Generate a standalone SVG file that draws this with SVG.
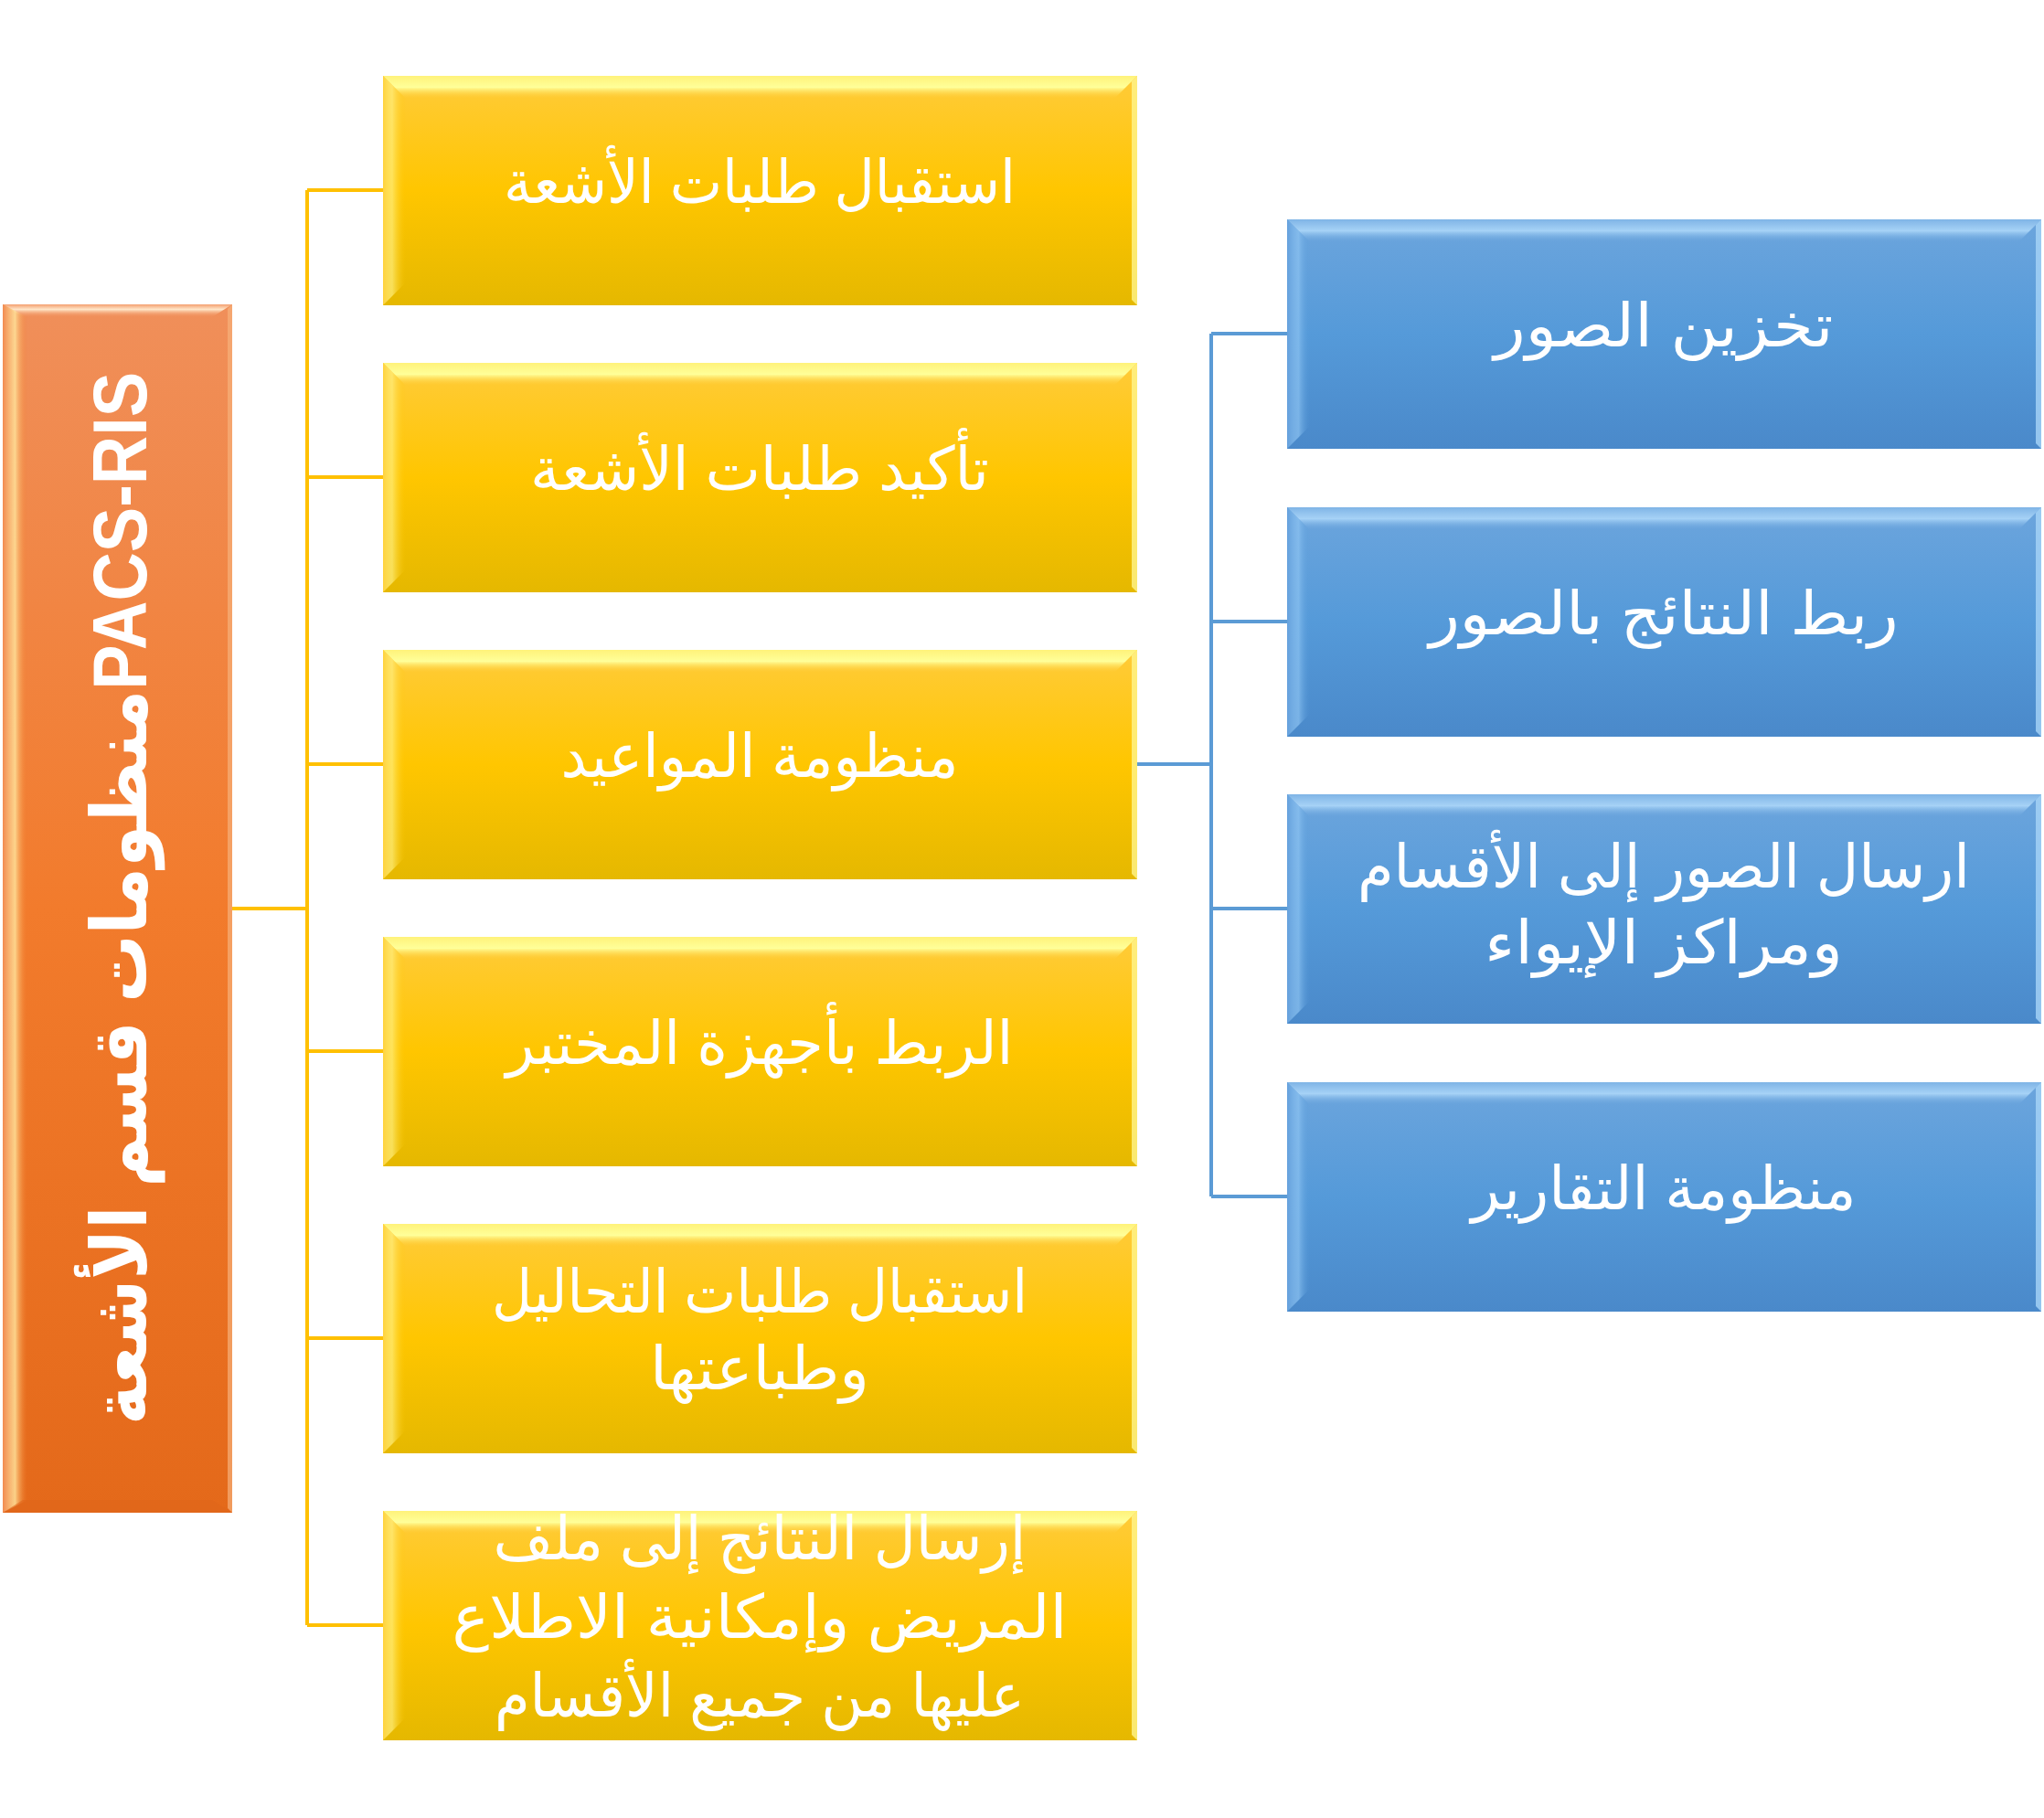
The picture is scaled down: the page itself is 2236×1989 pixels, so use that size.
<svg xmlns="http://www.w3.org/2000/svg" width="2236" height="1989" viewBox="0 0 2236 1989">
<style>
.t{font-family:'Liberation Sans','DejaVu Sans',sans-serif;fill:#ffffff;text-anchor:middle;font-size:66px}
.tb{font-family:'Liberation Sans','DejaVu Sans',sans-serif;fill:#ffffff;text-anchor:middle;font-size:84px;font-weight:bold}
.cy{fill:none;stroke:#FFC000;stroke-width:4}
.cb{fill:none;stroke:#5B9BD5;stroke-width:4}
</style>
<defs>
<linearGradient id="gy" x1="0" y1="0" x2="0" y2="1">
<stop offset="0" stop-color="#FFCB3A"/><stop offset="0.5" stop-color="#FFC600"/><stop offset="1" stop-color="#E5B800"/>
</linearGradient>
<linearGradient id="go" x1="0" y1="0" x2="0" y2="1">
<stop offset="0" stop-color="#F08F5A"/><stop offset="0.5" stop-color="#F27B2C"/><stop offset="1" stop-color="#E4691A"/>
</linearGradient>
<linearGradient id="gb" x1="0" y1="0" x2="0" y2="1">
<stop offset="0" stop-color="#6CA5DD"/><stop offset="0.5" stop-color="#559AD9"/><stop offset="1" stop-color="#4A89CA"/>
</linearGradient>
<linearGradient id="hy" x1="0" y1="0" x2="0" y2="1">
<stop offset="0" stop-color="#FFF27A"/><stop offset="0.5" stop-color="#FFFF99"/><stop offset="1" stop-color="#FFCB3A" stop-opacity="0"/>
</linearGradient>
<linearGradient id="hyl" x1="0" y1="0" x2="1" y2="0">
<stop offset="0" stop-color="#FFD23C"/><stop offset="0.4" stop-color="#FFF080" stop-opacity="0.7"/><stop offset="1" stop-color="#FFC600" stop-opacity="0"/>
</linearGradient>
<linearGradient id="ho" x1="0" y1="0" x2="0" y2="1">
<stop offset="0" stop-color="#F4A070"/><stop offset="0.4" stop-color="#FFE6C8"/><stop offset="1" stop-color="#F08F5A" stop-opacity="0"/>
</linearGradient>
<linearGradient id="hol" x1="0" y1="0" x2="1" y2="0">
<stop offset="0" stop-color="#F28A50"/><stop offset="0.5" stop-color="#FFE29A" stop-opacity="0.85"/><stop offset="1" stop-color="#F27B2C" stop-opacity="0"/>
</linearGradient>
<linearGradient id="hb" x1="0" y1="0" x2="0" y2="1">
<stop offset="0" stop-color="#7FB4E6"/><stop offset="0.5" stop-color="#A6D2F6"/><stop offset="1" stop-color="#6CA5DD" stop-opacity="0"/>
</linearGradient>
<linearGradient id="hbl" x1="0" y1="0" x2="1" y2="0">
<stop offset="0" stop-color="#64A0DC"/><stop offset="0.5" stop-color="#8EC4F2" stop-opacity="0.7"/><stop offset="1" stop-color="#559AD9" stop-opacity="0"/>
</linearGradient>
</defs>

<g id="connectors">
<path class="cy" d="M254 994 H336 M336 208 V1778 M336 208 H419 M336 522 H419 M336 836 H419 M336 1150 H419 M336 1464 H419 M336 1778 H419"/>
<path class="cb" d="M1244 836 H1325 M1325 365 V1309 M1325 365 H1408 M1325 680 H1408 M1325 994 H1408 M1325 1309 H1408"/>
</g>

<g id="root">
<rect x="3" y="333" width="251" height="1322" fill="url(#go)"/>
<polygon points="3,333 254,333 232,347 25,347" fill="url(#ho)"/>
<polygon points="3,333 30,347 30,1641 3,1655" fill="url(#hol)"/>
<polygon points="254,333 254,1655 249,1650 249,338" fill="#F6B07A" opacity="0.7"/>
<polygon points="3,1655 254,1655 232,1641 25,1641" fill="#E0661A" opacity="0.6"/>
<text class="tb" transform="translate(160,983) rotate(-90)" x="0" y="0" textLength="1152" lengthAdjust="spacingAndGlyphs">منظومات قسم الأشعةPACS-RIS</text>
</g>

<g id="y1">
<rect x="419" y="83" width="825" height="251" fill="url(#gy)"/>
<polygon points="419,83 1244,83 1219,108 444,108" fill="url(#hy)"/>
<polygon points="419,83 444,108 444,309 419,334" fill="url(#hyl)"/>
<polygon points="1244,83 1244,334 1238,328 1238,89" fill="#FFF58C" opacity="0.8"/>
<text class="t" x="831" y="222" textLength="560" lengthAdjust="spacingAndGlyphs">استقبال طلبات الأشعة</text>
</g>
<g id="y2">
<rect x="419" y="397" width="825" height="251" fill="url(#gy)"/>
<polygon points="419,397 1244,397 1219,422 444,422" fill="url(#hy)"/>
<polygon points="419,397 444,422 444,623 419,648" fill="url(#hyl)"/>
<polygon points="1244,397 1244,648 1238,642 1238,403" fill="#FFF58C" opacity="0.8"/>
<text class="t" x="831" y="536" textLength="502" lengthAdjust="spacingAndGlyphs">تأكيد طلبات الأشعة</text>
</g>
<g id="y3">
<rect x="419" y="711" width="825" height="251" fill="url(#gy)"/>
<polygon points="419,711 1244,711 1219,736 444,736" fill="url(#hy)"/>
<polygon points="419,711 444,736 444,937 419,962" fill="url(#hyl)"/>
<polygon points="1244,711 1244,962 1238,956 1238,717" fill="#FFF58C" opacity="0.8"/>
<text class="t" x="831" y="850" textLength="435" lengthAdjust="spacingAndGlyphs">منظومة المواعيد</text>
</g>
<g id="y4">
<rect x="419" y="1025" width="825" height="251" fill="url(#gy)"/>
<polygon points="419,1025 1244,1025 1219,1050 444,1050" fill="url(#hy)"/>
<polygon points="419,1025 444,1050 444,1251 419,1276" fill="url(#hyl)"/>
<polygon points="1244,1025 1244,1276 1238,1270 1238,1031" fill="#FFF58C" opacity="0.8"/>
<text class="t" x="831" y="1164" textLength="555" lengthAdjust="spacingAndGlyphs">الربط بأجهزة المختبر</text>
</g>
<g id="y5">
<rect x="419" y="1339" width="825" height="251" fill="url(#gy)"/>
<polygon points="419,1339 1244,1339 1219,1364 444,1364" fill="url(#hy)"/>
<polygon points="419,1339 444,1364 444,1565 419,1590" fill="url(#hyl)"/>
<polygon points="1244,1339 1244,1590 1238,1584 1238,1345" fill="#FFF58C" opacity="0.8"/>
<text class="t" x="831" y="1436" textLength="586" lengthAdjust="spacingAndGlyphs">استقبال طلبات التحاليل</text>
<text class="t" x="831" y="1520" textLength="240" lengthAdjust="spacingAndGlyphs">وطباعتها</text>
</g>
<g id="y6">
<rect x="419" y="1653" width="825" height="251" fill="url(#gy)"/>
<polygon points="419,1653 1244,1653 1219,1678 444,1678" fill="url(#hy)"/>
<polygon points="419,1653 444,1678 444,1879 419,1904" fill="url(#hyl)"/>
<polygon points="1244,1653 1244,1904 1238,1898 1238,1659" fill="#FFF58C" opacity="0.8"/>
<text class="t" x="831" y="1706" textLength="583" lengthAdjust="spacingAndGlyphs">إرسال النتائج إلى ملف</text>
<text class="t" x="831" y="1792" textLength="673" lengthAdjust="spacingAndGlyphs">المريض وإمكانية الاطلاع</text>
<text class="t" x="831" y="1878" textLength="580" lengthAdjust="spacingAndGlyphs">عليها من جميع الأقسام</text>
</g>

<g id="b1">
<rect x="1408" y="240" width="825" height="251" fill="url(#gb)"/>
<polygon points="1408,240 2233,240 2208,265 1433,265" fill="url(#hb)"/>
<polygon points="1408,240 1433,265 1433,466 1408,491" fill="url(#hbl)"/>
<polygon points="2233,240 2233,491 2227,485 2227,246" fill="#A8D4F8" opacity="0.8"/>
<text class="t" x="1820" y="379" textLength="371" lengthAdjust="spacingAndGlyphs">تخزين الصور</text>
</g>
<g id="b2">
<rect x="1408" y="555" width="825" height="251" fill="url(#gb)"/>
<polygon points="1408,555 2233,555 2208,580 1433,580" fill="url(#hb)"/>
<polygon points="1408,555 1433,580 1433,781 1408,806" fill="url(#hbl)"/>
<polygon points="2233,555 2233,806 2227,800 2227,561" fill="#A8D4F8" opacity="0.8"/>
<text class="t" x="1820" y="694" textLength="513" lengthAdjust="spacingAndGlyphs">ربط النتائج بالصور</text>
</g>
<g id="b3">
<rect x="1408" y="869" width="825" height="251" fill="url(#gb)"/>
<polygon points="1408,869 2233,869 2208,894 1433,894" fill="url(#hb)"/>
<polygon points="1408,869 1433,894 1433,1095 1408,1120" fill="url(#hbl)"/>
<polygon points="2233,869 2233,1120 2227,1114 2227,875" fill="#A8D4F8" opacity="0.8"/>
<text class="t" x="1820" y="971" textLength="670" lengthAdjust="spacingAndGlyphs">ارسال الصور إلى الأقسام</text>
<text class="t" x="1820" y="1054" textLength="392" lengthAdjust="spacingAndGlyphs">ومراكز الإيواء</text>
</g>
<g id="b4">
<rect x="1408" y="1184" width="825" height="251" fill="url(#gb)"/>
<polygon points="1408,1184 2233,1184 2208,1209 1433,1209" fill="url(#hb)"/>
<polygon points="1408,1184 1433,1209 1433,1410 1408,1435" fill="url(#hbl)"/>
<polygon points="2233,1184 2233,1435 2227,1429 2227,1190" fill="#A8D4F8" opacity="0.8"/>
<text class="t" x="1820" y="1323" textLength="421" lengthAdjust="spacingAndGlyphs">منظومة التقارير</text>
</g>
</svg>
